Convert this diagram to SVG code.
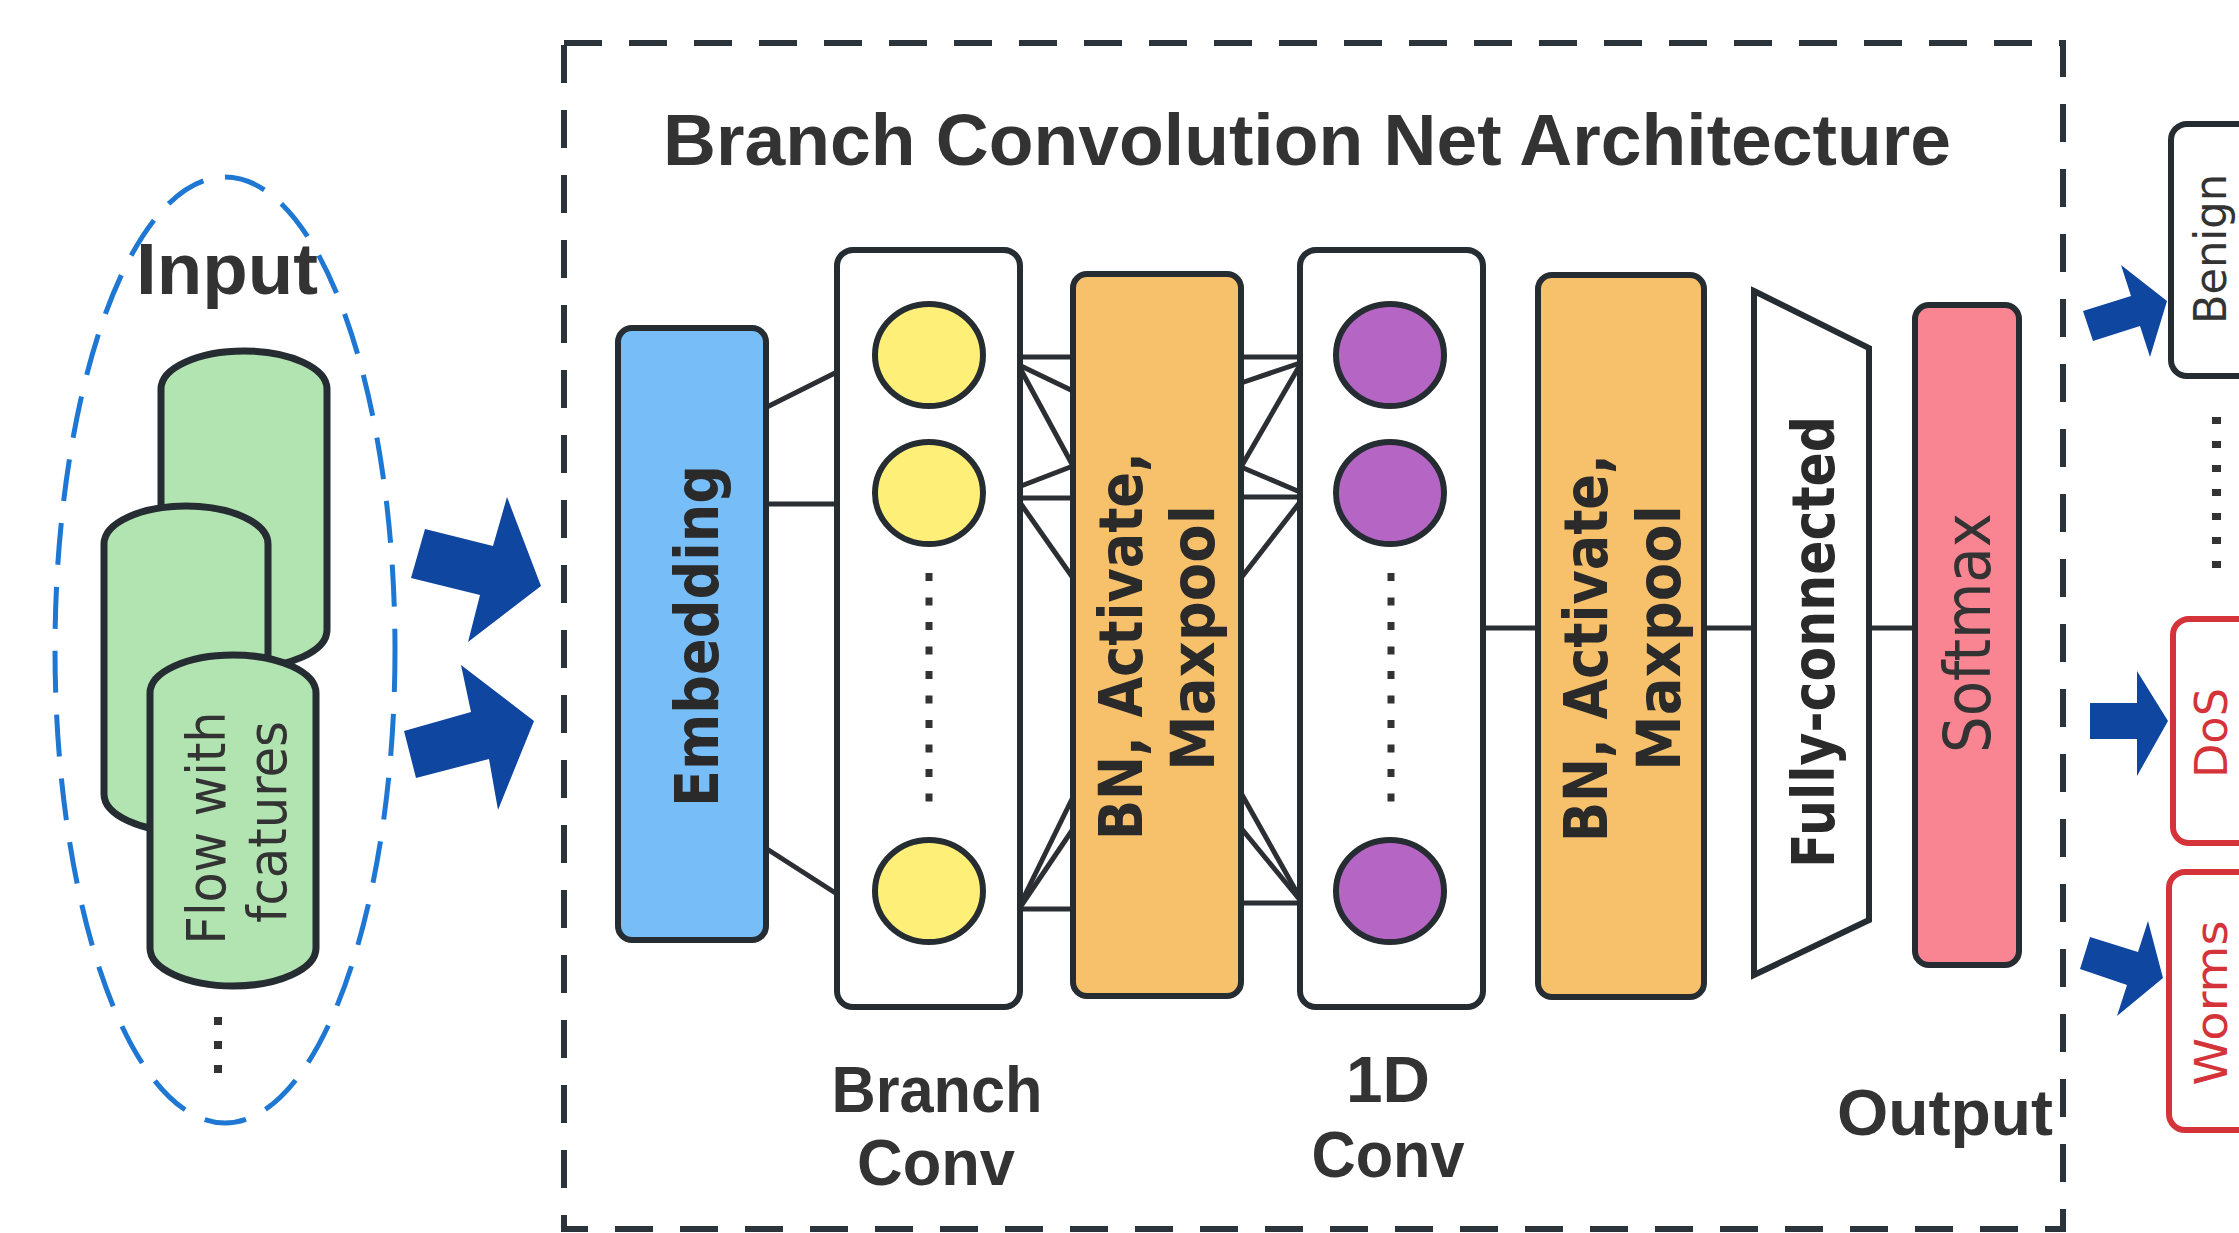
<svg xmlns="http://www.w3.org/2000/svg" width="2239" height="1233" viewBox="0 0 2239 1233">
<defs>
<style>
.stk{stroke:#252c32;stroke-width:6}
.lbl{font-family:"Liberation Sans",Arial,sans-serif;font-weight:bold;fill:#333333}
.rot{font-family:"DejaVu Sans","Liberation Sans",sans-serif;font-weight:bold;fill:#2a2a2a}
.reg{font-family:"DejaVu Sans","Liberation Sans",sans-serif;fill:#333333}
.conn line{stroke:#2b2f33;stroke-width:5}
.arrow{fill:#0f46a0}
.dots{stroke:#333333;stroke-width:7;stroke-dasharray:8 16.5;fill:none}
.out{font-family:"DejaVu Sans","Liberation Sans",sans-serif;font-size:44px}
</style>
</defs>
<rect width="2239" height="1233" fill="#ffffff"/>

<g id="frame">
<rect x="564" y="43" width="1499" height="1186" fill="none" stroke="#2b333b" stroke-width="6" stroke-dasharray="38 27"/>
<text class="lbl" x="1307" y="165" font-size="72" text-anchor="middle" textLength="1288" lengthAdjust="spacingAndGlyphs">Branch Convolution Net Architecture</text>
</g>

<g id="input">
<ellipse cx="225" cy="650" rx="170" ry="473" fill="none" stroke="#1e78d3" stroke-width="5" stroke-dasharray="42 22"/>
<text class="lbl" x="227" y="294" font-size="72" text-anchor="middle" textLength="182" lengthAdjust="spacingAndGlyphs">Input</text>
<rect x="161" y="351" width="166" height="317" rx="83" ry="38" fill="#b1e4b1" stroke="#252c32" stroke-width="7"/>
<rect x="104" y="506" width="164" height="326" rx="82" ry="38" fill="#b1e4b1" stroke="#252c32" stroke-width="7"/>
<rect x="150" y="655" width="166" height="331" rx="83" ry="38" fill="#b1e4b1" stroke="#252c32" stroke-width="7"/>
<text class="reg" transform="translate(225,828) rotate(-90)" font-size="54" text-anchor="middle" textLength="233" lengthAdjust="spacingAndGlyphs">Flow with</text>
<text class="reg" transform="translate(286,822) rotate(-90)" font-size="54" text-anchor="middle" textLength="202" lengthAdjust="spacingAndGlyphs">fcatures</text>
<rect x="214" y="1017" width="8" height="8" fill="#333"/>
<rect x="214" y="1041" width="8" height="8" fill="#333"/>
<rect x="214" y="1065" width="8" height="8" fill="#333"/>
</g>

<g id="input-arrows">
<polygon class="arrow" points="425,529 493,546 507,497 541,586 468,642 480,595 411,578"/>
<polygon class="arrow" points="404,731 471,712 461,665 534,721 498,810 489,759 416,778"/>
</g>

<g id="connectors" class="conn">
<line x1="767" y1="407" x2="837" y2="372"/>
<line x1="767" y1="504" x2="837" y2="504"/>
<line x1="767" y1="849" x2="837" y2="894"/>
<line x1="1021" y1="357" x2="1073" y2="357"/>
<line x1="1021" y1="366" x2="1073" y2="391"/>
<line x1="1021" y1="370" x2="1073" y2="466"/>
<line x1="1021" y1="486" x2="1073" y2="466"/>
<line x1="1021" y1="498" x2="1073" y2="498"/>
<line x1="1021" y1="504" x2="1073" y2="578"/>
<line x1="1021" y1="903" x2="1073" y2="797"/>
<line x1="1021" y1="906" x2="1073" y2="829"/>
<line x1="1021" y1="909" x2="1073" y2="909"/>
<line x1="1241" y1="357" x2="1300" y2="357"/>
<line x1="1241" y1="383" x2="1300" y2="363"/>
<line x1="1241" y1="467" x2="1300" y2="365"/>
<line x1="1241" y1="467" x2="1300" y2="492"/>
<line x1="1241" y1="497" x2="1300" y2="497"/>
<line x1="1241" y1="578" x2="1300" y2="502"/>
<line x1="1241" y1="793" x2="1300" y2="898"/>
<line x1="1241" y1="828" x2="1300" y2="900"/>
<line x1="1241" y1="903" x2="1300" y2="903"/>
<line x1="1483" y1="628" x2="1538" y2="628"/>
<line x1="1704" y1="628" x2="1754" y2="628"/>
<line x1="1869" y1="628" x2="1915" y2="628"/>
</g>

<g id="embedding">
<rect class="stk" x="618" y="328" width="148" height="612" rx="14" fill="#77bdf8"/>
<text class="rot" transform="translate(718,636) rotate(-90)" font-size="60" text-anchor="middle" textLength="342" lengthAdjust="spacingAndGlyphs">Embedding</text>
</g>

<g id="branch-conv">
<rect class="stk" x="837" y="250" width="183" height="757" rx="16" fill="#ffffff"/>
<ellipse class="stk" cx="929" cy="355" rx="54" ry="51" fill="#fdef78"/>
<ellipse class="stk" cx="929" cy="493" rx="54" ry="51" fill="#fdef78"/>
<ellipse class="stk" cx="929" cy="891" rx="54" ry="51" fill="#fdef78"/>
<line class="dots" x1="929" y1="573" x2="929" y2="806"/>
</g>

<g id="bn1">
<rect class="stk" x="1073" y="274" width="168" height="722" rx="14" fill="#f7c16c"/>
<text class="rot" transform="translate(1142,646) rotate(-90)" font-size="60" text-anchor="middle" textLength="388" lengthAdjust="spacingAndGlyphs">BN, Activate,</text>
<text class="rot" transform="translate(1214,638) rotate(-90)" font-size="60" text-anchor="middle" textLength="266" lengthAdjust="spacingAndGlyphs">Maxpool</text>
</g>

<g id="conv1d">
<rect class="stk" x="1300" y="250" width="183" height="757" rx="16" fill="#ffffff"/>
<ellipse class="stk" cx="1390" cy="355" rx="54" ry="51" fill="#b565c4"/>
<ellipse class="stk" cx="1390" cy="493" rx="54" ry="51" fill="#b565c4"/>
<ellipse class="stk" cx="1390" cy="891" rx="54" ry="51" fill="#b565c4"/>
<line class="dots" x1="1391" y1="573" x2="1391" y2="806"/>
</g>

<g id="bn2">
<rect class="stk" x="1538" y="275" width="166" height="722" rx="14" fill="#f7c16c"/>
<text class="rot" transform="translate(1607,648) rotate(-90)" font-size="60" text-anchor="middle" textLength="388" lengthAdjust="spacingAndGlyphs">BN, Activate,</text>
<text class="rot" transform="translate(1680,638) rotate(-90)" font-size="60" text-anchor="middle" textLength="266" lengthAdjust="spacingAndGlyphs">Maxpool</text>
</g>

<g id="fully-connected">
<polygon class="stk" points="1754,291 1869,348 1869,920 1754,975" fill="#ffffff" stroke-linejoin="miter"/>
<text class="rot" transform="translate(1834,642) rotate(-90)" font-size="58" text-anchor="middle" textLength="452" lengthAdjust="spacingAndGlyphs">Fully-connected</text>
</g>

<g id="softmax">
<rect class="stk" x="1915" y="305" width="104" height="660" rx="14" fill="#f98592"/>
<text class="reg" transform="translate(1990,633) rotate(-90)" font-size="64" text-anchor="middle" textLength="240" lengthAdjust="spacingAndGlyphs" fill="#333">Softmax</text>
</g>

<g id="labels">
<text class="lbl" x="937" y="1112" font-size="64" text-anchor="middle" textLength="211" lengthAdjust="spacingAndGlyphs">Branch</text>
<text class="lbl" x="936" y="1185" font-size="64" text-anchor="middle" textLength="158" lengthAdjust="spacingAndGlyphs">Conv</text>
<text class="lbl" x="1388" y="1102" font-size="64" text-anchor="middle" textLength="84" lengthAdjust="spacingAndGlyphs">1D</text>
<text class="lbl" x="1388" y="1177" font-size="64" text-anchor="middle" textLength="153" lengthAdjust="spacingAndGlyphs">Conv</text>
<text class="lbl" x="1945" y="1135" font-size="64" text-anchor="middle" textLength="216" lengthAdjust="spacingAndGlyphs">Output</text>
</g>

<g id="output-arrows">
<polygon class="arrow" points="2083,311 2131,296 2121,265 2167,301 2150,357 2140,326 2093,341"/>
<polygon class="arrow" points="2090,703 2137,703 2137,671 2168,721 2137,776 2137,739 2090,739"/>
<polygon class="arrow" points="2090,937 2138,952 2148,921 2163,978 2117,1016 2127,985 2080,969"/>
</g>

<g id="benign">
<rect x="2171" y="124" width="120" height="252" rx="16" fill="#ffffff" stroke="#252c32" stroke-width="6"/>
<text class="out" transform="translate(2226,249) rotate(-90)" fill="#333" text-anchor="middle" textLength="150" lengthAdjust="spacingAndGlyphs">Benign</text>
</g>

<g id="output-dots">
<rect x="2212" y="417" width="9" height="7" fill="#333"/>
<rect x="2212" y="441" width="9" height="7" fill="#333"/>
<rect x="2212" y="465" width="9" height="7" fill="#333"/>
<rect x="2212" y="489" width="9" height="7" fill="#333"/>
<rect x="2212" y="513" width="9" height="7" fill="#333"/>
<rect x="2212" y="537" width="9" height="7" fill="#333"/>
<rect x="2212" y="561" width="9" height="7" fill="#333"/>
</g>

<g id="dos">
<rect x="2173" y="619" width="120" height="224" rx="16" fill="#ffffff" stroke="#d5333a" stroke-width="6"/>
<text class="out" transform="translate(2227,733) rotate(-90)" fill="#d5333a" text-anchor="middle" textLength="90" lengthAdjust="spacingAndGlyphs">DoS</text>
</g>

<g id="worms">
<rect x="2169" y="872" width="120" height="258" rx="16" fill="#ffffff" stroke="#d5333a" stroke-width="6"/>
<text class="out" transform="translate(2227,1003) rotate(-90)" fill="#d5333a" text-anchor="middle" textLength="165" lengthAdjust="spacingAndGlyphs">Worms</text>
</g>
</svg>
